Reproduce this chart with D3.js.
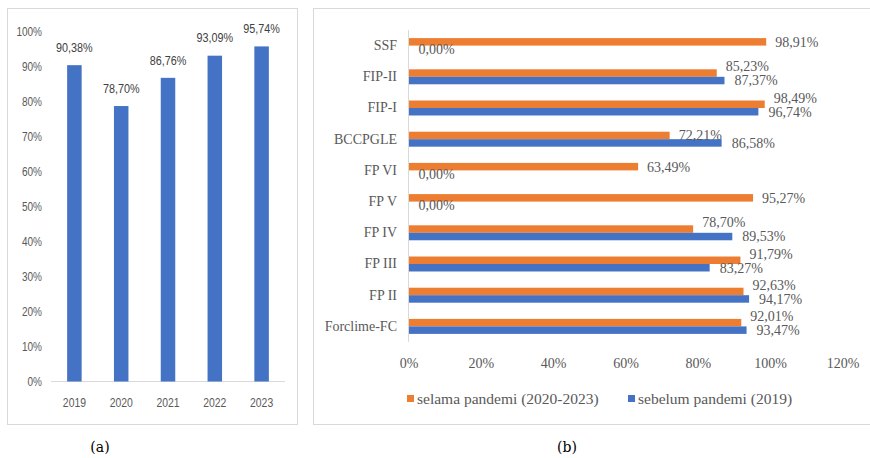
<!DOCTYPE html>
<html>
<head>
<meta charset="utf-8">
<script src="https://cdn.jsdelivr.net/npm/d3@7"></script>
<style>
  html, body { margin: 0; padding: 0; background: #fff; }
  svg { display: block; }
</style>
</head>
<body>
<svg id="chart" width="870" height="458"></svg>
<script>
// (a) yearly completion rate
const years = ["2019", "2020", "2021", "2022", "2023"];
const yearlyRate = [0.9038, 0.7870, 0.8676, 0.9309, 0.9574];
const yTicksA = [0, 0.1, 0.2, 0.3, 0.4, 0.5, 0.6, 0.7, 0.8, 0.9, 1.0];

// (b) per programme, before vs during the pandemic
const programs = ["SSF", "FIP-II", "FIP-I", "BCCPGLE", "FP VI", "FP V", "FP IV", "FP III", "FP II", "Forclime-FC"];
const duringPandemic = [0.9891, 0.8523, 0.9849, 0.7221, 0.6349, 0.9527, 0.7870, 0.9179, 0.9263, 0.9201];
const beforePandemic = [0, 0.8737, 0.9674, 0.8658, 0, 0, 0.8953, 0.8327, 0.9417, 0.9347];
const seriesNames = ["selama pandemi (2020-2023)", "sebelum pandemi (2019)"];
const xTicksB = [0, 0.2, 0.4, 0.6, 0.8, 1.0, 1.2];

const ORANGE = "#ED7D31", BLUE = "#4472C4";
const idLocale = d3.formatLocale({ decimal: ",", thousands: ".", grouping: [3], currency: ["", ""] });
const pct2 = idLocale.format(".2%");
const pct0 = idLocale.format(".0%");

const svg = d3.select("#chart");
svg.append("rect").attr("width", 870).attr("height", 458).attr("fill", "#fff");

// panel frames
svg.append("rect").attr("x", 7.5).attr("y", 8.5).attr("width", 290).attr("height", 416)
  .attr("fill", "none").attr("stroke", "#D9D9D9");
svg.append("rect").attr("x", 313.5).attr("y", 8.5).attr("width", 570).attr("height", 416)
  .attr("fill", "none").attr("stroke", "#D9D9D9");

// ---------- panel (a) ----------
// condensed sans look: regular sans squeezed horizontally
const sans = "'Liberation Sans', Arial, sans-serif";
const squeeze = "scale(0.77,1)";
const xA = d3.scaleBand().domain(years).range([51, 285]).paddingInner(0.69).paddingOuter(0.345);
const yA = d3.scaleLinear().domain([0, 1]).range([381.5, 31.5]);
const gA = svg.append("g");

gA.append("g").attr("transform", "translate(42,0)")
  .call(d3.axisLeft(yA).tickValues(yTicksA).tickFormat(pct0).tickSize(0).tickPadding(0))
  .call(g => g.select(".domain").remove())
  .call(g => g.selectAll("text").attr("x", 0).attr("transform", squeeze)
    .attr("font-family", sans).attr("font-size", 13).attr("fill", "#595959"));

gA.append("line").attr("x1", 51).attr("x2", 285).attr("y1", 381.5).attr("y2", 381.5)
  .attr("stroke", "#D9D9D9");

gA.append("g").attr("transform", "translate(0,397)")
  .call(d3.axisBottom(xA).tickSize(0).tickPadding(0))
  .call(g => g.select(".domain").remove())
  .call(g => g.selectAll("text").attr("y", 0).attr("transform", squeeze)
    .attr("font-family", sans).attr("font-size", 13.5).attr("fill", "#595959"));

const dataA = years.map((y, i) => ({ year: y, v: yearlyRate[i] }));
gA.selectAll("rect.bar").data(dataA).join("rect").attr("class", "bar")
  .attr("x", d => xA(d.year)).attr("width", xA.bandwidth())
  .attr("y", d => yA(d.v)).attr("height", d => yA(0) - yA(d.v))
  .attr("fill", BLUE);

gA.selectAll("text.val").data(dataA).join("text").attr("class", "val")
  .attr("transform", d => `translate(${xA(d.year) + xA.bandwidth() / 2},${yA(d.v) - 18}) scale(0.8,1)`)
  .attr("dy", "0.35em").attr("text-anchor", "middle")
  .attr("font-family", sans).attr("font-size", 13.5).attr("fill", "#404040")
  .text(d => pct2(d.v));

svg.append("text").attr("x", 100).attr("y", 447).attr("dy", "0.35em").attr("text-anchor", "middle")
  .attr("font-family", "'DejaVu Serif', serif").attr("font-size", 14).attr("fill", "#000").text("(a)");

// ---------- panel (b) ----------
const serif = "'Liberation Serif', 'Times New Roman', serif";
const xB = d3.scaleLinear().domain([0, 1.2]).range([408.5, 842.5]);
const yB = d3.scaleBand().domain(programs).range([30, 342]).paddingInner(0.52).paddingOuter(0.26);
const ySeries = d3.scaleBand().domain(["during", "before"]).range([0, yB.bandwidth()]);
const gB = svg.append("g");

gB.append("g").attr("transform", "translate(0,363)")
  .call(d3.axisBottom(xB).tickValues(xTicksB).tickFormat(pct0).tickSize(0).tickPadding(0))
  .call(g => g.select(".domain").remove())
  .call(g => g.selectAll("text").attr("dy", "0.35em").attr("font-family", serif).attr("font-size", 14).attr("fill", "#595959"));

gB.append("g").attr("transform", "translate(397,0)")
  .call(d3.axisLeft(yB).tickSize(0).tickPadding(0))
  .call(g => g.select(".domain").remove())
  .call(g => g.selectAll("text").attr("font-family", serif).attr("font-size", 14).attr("fill", "#595959"));

const dataB = programs.map((p, i) => ({ p, during: duringPandemic[i], before: beforePandemic[i] }));
const series = [["during", ORANGE], ["before", BLUE]];

series.forEach(([key, color]) => {
  gB.selectAll("rect.b-" + key).data(dataB).join("rect").attr("class", "b-" + key)
    .attr("x", xB(0)).attr("width", d => xB(d[key]) - xB(0))
    .attr("y", d => yB(d.p) + ySeries(key)).attr("height", ySeries.bandwidth())
    .attr("fill", color);
});

gB.append("line").attr("x1", 408.5).attr("x2", 408.5).attr("y1", 30).attr("y2", 342)
  .attr("stroke", "#D9D9D9");

// value labels: outside the bar end; the orange label moves up when it would collide with the blue one
const labelW = 46, minGap = 14;
const labels = [];
dataB.forEach(d => {
  const yb = yB(d.p) + ySeries("before") + ySeries.bandwidth() / 2;
  let yo = yB(d.p) + ySeries("during") + ySeries.bandwidth() / 2;
  const xo = xB(d.during) + 9, xb = xB(d.before) + 10;
  if (Math.abs(xo - xb) < labelW && yb - yo < minGap) yo = yb - minGap;
  labels.push({ x: xo, y: yo, v: d.during });
  labels.push({ x: xb, y: yb, v: d.before });
});
gB.selectAll("text.lbl").data(labels).join("text").attr("class", "lbl")
  .attr("x", d => d.x).attr("y", d => d.y).attr("dy", "0.35em")
  .attr("font-family", serif).attr("font-size", 14).attr("fill", "#595959")
  .text(d => pct2(d.v));

// legend
const legend = gB.append("g");
const legendX = [407, 628];
series.forEach(([key, color], i) => {
  legend.append("rect").attr("x", legendX[i]).attr("y", 395).attr("width", 7).attr("height", 7).attr("fill", color);
  legend.append("text").attr("x", legendX[i] + 10).attr("y", 399).attr("dy", "0.35em")
    .attr("font-family", serif).attr("font-size", 15.5).attr("fill", "#595959").text(seriesNames[i]);
});

svg.append("text").attr("x", 567).attr("y", 447).attr("dy", "0.35em").attr("text-anchor", "middle")
  .attr("font-family", "'DejaVu Serif', serif").attr("font-size", 14).attr("fill", "#000").text("(b)");
</script>
</body>
</html>
